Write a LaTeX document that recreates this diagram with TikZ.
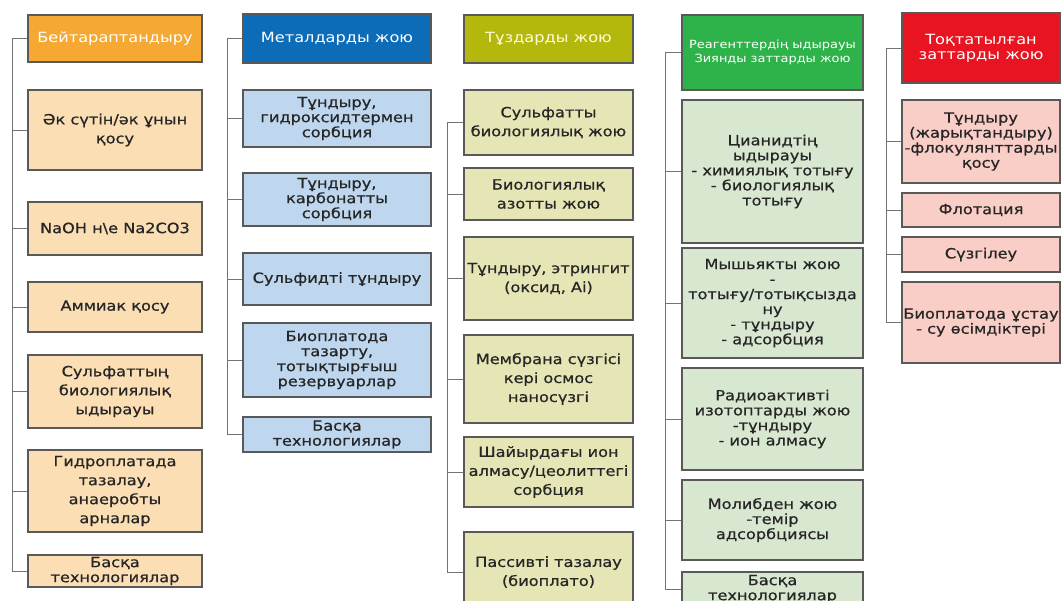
\documentclass[tikz,border=0pt]{standalone}
\usepackage{fontspec}
\setmainfont[FakeStretch=1.15]{DejaVu Sans}
\newfontfamily\bodyfont[FakeStretch=1.15,FakeBold=0.7]{DejaVu Sans}
\usetikzlibrary{positioning}

\definecolor{orHead}{RGB}{245,168,50}
\definecolor{orBody}{RGB}{251,222,180}
\definecolor{blHead}{RGB}{12,108,184}
\definecolor{blBody}{RGB}{190,215,238}
\definecolor{olHead}{RGB}{180,184,12}
\definecolor{olBody}{RGB}{229,229,182}
\definecolor{grHead}{RGB}{46,178,74}
\definecolor{grBody}{RGB}{216,232,208}
\definecolor{rdHead}{RGB}{232,20,34}
\definecolor{rdBody}{RGB}{249,206,198}

\begin{document}
\begin{tikzpicture}[x=0.025cm, y=-0.025cm,
    box/.style={draw=black!65, line width=0.8pt, align=center, inner sep=1pt,
                text=black!85, font=\bodyfont\fontsize{10}{13.5}\selectfont},
    tight/.style={font=\bodyfont\fontsize{10}{10.7}\selectfont},
    head/.style={box, text=white, font=\normalfont\fontsize{10}{10.7}\selectfont},
    wd/.style={minimum width=#1*0.025cm},
    ht/.style={minimum height=#1*0.025cm},
    link/.style={draw=black!55, line width=0.6pt}]
  \useasboundingbox (0,0) rectangle (1061,600);
  \clip (0,0) rectangle (1061,600);

  % Бейтараптандыру
  \begin{scope}[every node/.append style={wd=174}]
    \node[head, fill=orHead, ht=47] (h1) at (115,38.5) {Бейтараптандыру};
    \node[box, fill=orBody, ht=80] (a1) at (115,130) {Әк сүтін/әк ұнын\\қосу};
    \node[box, fill=orBody, ht=53] (a2) at (115,228.5) {NaOH н\textbackslash е Na2CO3};
    \node[box, fill=orBody, ht=50] (a3) at (115,307) {Аммиак қосу};
    \node[box, fill=orBody, ht=73] (a4) at (115,391.5) {Сульфаттың\\биологиялық\\ыдырауы};
    \node[box, fill=orBody, ht=82] (a5) at (115,491) {Гидроплатада\\тазалау,\\анаеробты\\арналар};
    \node[box, tight, fill=orBody, ht=32] (a6) at (115,571) {Басқа\\технологиялар};
  \end{scope}
  \coordinate (t1) at (12,47);
  \draw[link] (t1 |- h1.west) -- (t1 |- a6.west);
  \foreach \n in {h1,a1,a2,a3,a4,a5,a6}
    \draw[link] (\n.west) -- (\n.west -| t1);

  % Металдарды жою
  \begin{scope}[every node/.append style={wd=188}]
    \node[head, fill=blHead, ht=49] (h2) at (337,38.5) {Металдарды жою};
    \node[box, tight, fill=blBody, ht=57] (b1) at (337,118.5) {Тұндыру,\\гидроксидтермен\\сорбция};
    \node[box, tight, fill=blBody, ht=53] (b2) at (337,199.5) {Тұндыру,\\карбонатты\\сорбция};
    \node[box, tight, fill=blBody, ht=52] (b3) at (337,279) {Сульфидті тұндыру};
    \node[box, tight, fill=blBody, ht=74] (b4) at (337,360) {Биоплатода\\тазарту,\\тотықтырғыш\\резервуарлар};
    \node[box, tight, fill=blBody, ht=35] (b5) at (337,434.5) {Басқа\\технологиялар};
  \end{scope}
  \coordinate (t2) at (227,47);
  \draw[link] (t2 |- h2.west) -- (t2 |- b5.west);
  \foreach \n in {h2,b1,b2,b3,b4,b5}
    \draw[link] (\n.west) -- (\n.west -| t2);

  % Тұздарды жою
  \begin{scope}[every node/.append style={wd=169}]
    \node[head, text=white!85!yellow, fill=olHead, ht=48] (h3) at (548.5,39) {Тұздарды жою};
    \node[box, fill=olBody, ht=65] (c1) at (548.5,122.5) {Сульфатты\\биологиялық жою};
    \node[box, fill=olBody, ht=52] (c2) at (548.5,194) {Биологиялық\\азотты жою};
    \node[box, fill=olBody, ht=83] (c3) at (548.5,278.5) {Тұндыру, этрингит\\(оксид, Ai)};
    \node[box, fill=olBody, ht=88] (c4) at (548.5,379) {Мембрана сүзгісі\\кері осмос\\наносүзгі};
    \node[box, fill=olBody, ht=70] (c5) at (548.5,472) {Шайырдағы ион\\алмасу/цеолиттегі\\сорбция};
    \node[box, fill=olBody, ht=80] (c6) at (548.5,572) {Пассивті тазалау\\(биоплато)};
  \end{scope}
  \coordinate (t3) at (447,122);
  \draw[link] (t3 |- c1.west) -- (t3 |- c6.west);
  \foreach \n in {c1,c2,c3,c4,c5,c6}
    \draw[link] (\n.west) -- (\n.west -| t3);

  % Реагенттердің ыдырауы
  \begin{scope}[every node/.append style={wd=181}]
    \node[head, font=\normalfont\fontsize{8}{9.5}\selectfont, fill=grHead, ht=75] (h4) at (772.5,52.5)
      {Реагенттердің ыдырауы\\Зиянды заттарды жою};
    \node[box, tight, fill=grBody, ht=143] (d1) at (772.5,171.5) {Цианидтің\\ыдырауы\\- химиялық тотығу\\- биологиялық\\тотығу};
    \node[box, tight, fill=grBody, ht=110] (d2) at (772.5,303) {Мышьякты жою\\-\\тотығу/тотықсызда\\ну\\- тұндыру\\- адсорбция};
    \node[box, tight, fill=grBody, ht=102] (d3) at (772.5,419) {Радиоактивті\\изотоптарды жою\\-тұндыру\\- ион алмасу};
    \node[box, tight, fill=grBody, ht=80] (d4) at (772.5,520) {Молибден жою\\-темір\\адсорбциясы};
    \node[box, tight, fill=grBody, ht=34] (d5) at (772.5,589) {Басқа\\технологиялар};
  \end{scope}
  \coordinate (t4) at (665,57);
  \draw[link] (t4 |- h4.west) -- (t4 |- d5.west);
  \foreach \n in {h4,d1,d2,d3,d4,d5}
    \draw[link] (\n.west) -- (\n.west -| t4);

  % Тоқтатылған заттарды жою
  \begin{scope}[every node/.append style={wd=158}]
    \node[head, fill=rdHead, ht=70] (h5) at (981,48) {Тоқтатылған\\заттарды жою};
    \node[box, tight, fill=rdBody, ht=83] (e1) at (981,141.5) {Тұндыру\\(жарықтандыру)\\-флокулянттарды\\қосу};
    \node[box, tight, fill=rdBody, ht=34] (e2) at (981,210) {Флотация};
    \node[box, tight, fill=rdBody, ht=35] (e3) at (981,254.5) {Сүзгілеу};
    \node[box, tight, fill=rdBody, ht=81] (e4) at (981,322.5) {Биоплатода ұстау\\- су өсімдіктері};
  \end{scope}
  \coordinate (t5) at (886,57);
  \draw[link] (t5 |- h5.west) -- (t5 |- e4.west);
  \foreach \n in {h5,e1,e2,e3,e4}
    \draw[link] (\n.west) -- (\n.west -| t5);
\end{tikzpicture}
\end{document}
